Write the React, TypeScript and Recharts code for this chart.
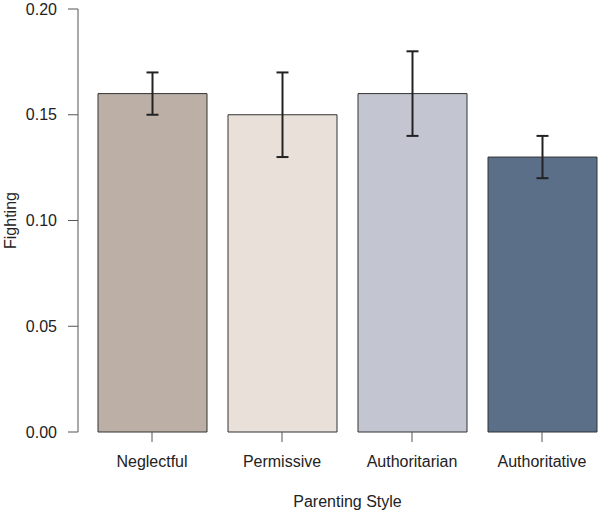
import { BarChart, Bar, XAxis, YAxis, Cell, ErrorBar } from 'recharts';

const styles = ['Neglectful', 'Permissive', 'Authoritarian', 'Authoritative'];
const means = [0.16, 0.15, 0.16, 0.13];
const errLow = [0.01, 0.02, 0.02, 0.01];
const errHigh = [0.01, 0.02, 0.02, 0.01];
const fills = ['#bcb0a6', '#e8e0d9', '#c3c6d1', '#5b6f89'];
const yTicks = [0, 0.05, 0.1, 0.15, 0.2];

const data = styles.map((name, i) => ({
  name,
  fighting: means[i],
  err: [errLow[i], errHigh[i]],
}));

const font = '"Liberation Sans", Arial, sans-serif';

export default function App() {
  return (
    <div style={{ position: 'absolute', left: 0, top: 0, width: 600, height: 513, overflow: 'hidden', background: '#fff' }}>
      <BarChart
        width={607}
        height={513}
        data={data}
        margin={{ top: 9, right: 0, bottom: 0, left: 0 }}
        style={{ fontFamily: font }}
      >
        <XAxis
          dataKey="name"
          axisLine={false}
          tickSize={10}
          tickMargin={14}
          height={81}
          padding={{ left: 9, right: 0 }}
          tickLine={{ stroke: '#555' }}
          tick={{ fill: '#222', fontSize: 16 }}
          label={{ value: 'Parenting Style', position: 'insideBottom', offset: 6, dx: 5, fill: '#222', fontSize: 16 }}
        />
        <YAxis
          domain={[0, 0.2]}
          ticks={yTicks}
          tickFormatter={(v: number) => v.toFixed(2)}
          width={78}
          tickSize={10}
          tickMargin={11}
          axisLine={{ stroke: '#555' }}
          tickLine={{ stroke: '#555' }}
          tick={{ fill: '#222', fontSize: 16 }}
          label={{ value: 'Fighting', angle: -90, position: 'insideLeft', offset: 10, fill: '#222', fontSize: 16, style: { textAnchor: 'middle' } }}
        />
        <Bar dataKey="fighting" barSize={109} stroke="#333" strokeWidth={1} isAnimationActive={false}>
          {data.map((d, i) => (
            <Cell key={d.name} fill={fills[i]} />
          ))}
          <ErrorBar dataKey="err" width={6} stroke="#222" strokeWidth={2} isAnimationActive={false} />
        </Bar>
      </BarChart>
    </div>
  );
}
